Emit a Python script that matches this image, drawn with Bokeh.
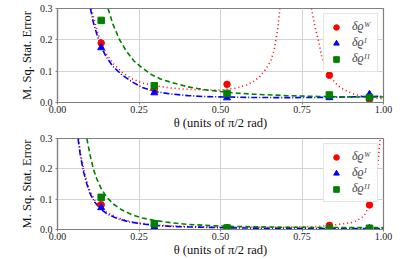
from bokeh.plotting import figure
from bokeh.layouts import column
from bokeh.models import FixedTicker, Range1d, Legend, LegendItem
from bokeh.embed import file_html
from bokeh.resources import INLINE

# ---------------- data ----------------
x_ticks = [0.0, 0.25, 0.5, 0.75, 1.0]
x_tick_labels = ["0.00", "0.25", "0.50", "0.75", "1.00"]
y_ticks = [0.0, 0.1, 0.2, 0.3]
y_tick_labels = ["0.0", "0.1", "0.2", "0.3"]
series_names = ["δϱᵂ", "δϱᴵ", "δϱᴵᴵ"]

theta_pts = [0.134, 0.297, 0.52, 0.834, 0.957]

# top panel measured points
top_W = [0.190, 0.043, 0.058, 0.087, 0.010]
top_I = [0.175, 0.031, 0.015, 0.0155, 0.026]
top_II = [0.262, 0.0535, 0.029, 0.024, 0.016]

# top panel theory curves
top_W_left_x = [0.104, 0.12, 0.134, 0.15, 0.17, 0.20, 0.23, 0.26, 0.30, 0.35, 0.40, 0.45,
                0.50, 0.55, 0.58, 0.60, 0.62, 0.64, 0.655, 0.665, 0.675, 0.682]
top_W_left_y = [0.30, 0.235, 0.19, 0.155, 0.125, 0.095, 0.075, 0.062, 0.053, 0.046, 0.042, 0.040,
                0.040, 0.046, 0.056, 0.066, 0.082, 0.108, 0.135, 0.17, 0.23, 0.30]
top_W_right_x = [0.779, 0.79, 0.80, 0.81, 0.822, 0.834, 0.85, 0.863, 0.88, 0.904, 0.925, 0.945, 0.97, 1.00]
top_W_right_y = [0.30, 0.24, 0.20, 0.15, 0.113, 0.087, 0.065, 0.052, 0.040, 0.029, 0.022, 0.018, 0.014, 0.012]

top_I_x = [0.101, 0.11, 0.12, 0.135, 0.15, 0.17, 0.198, 0.23, 0.26, 0.297, 0.35, 0.40, 0.45,
           0.52, 0.60, 0.70, 0.80, 0.90, 1.00]
top_I_y = [0.30, 0.255, 0.22, 0.175, 0.145, 0.115, 0.088, 0.065, 0.048, 0.035, 0.027, 0.022, 0.019,
           0.0175, 0.016, 0.0155, 0.016, 0.018, 0.020]

top_II_x = [0.155, 0.17, 0.19, 0.21, 0.234, 0.26, 0.29, 0.316, 0.35, 0.40, 0.45, 0.50, 0.55,
            0.60, 0.70, 0.80, 0.90, 1.00]
top_II_y = [0.30, 0.25, 0.201, 0.166, 0.133, 0.110, 0.088, 0.075, 0.064, 0.050, 0.041, 0.035, 0.030,
            0.0266, 0.022, 0.0192, 0.0178, 0.0174]

# bottom panel measured points
bot_W = [0.082, 0.013, 0.005, 0.0137, 0.081]
bot_I = [0.072, 0.0074, 0.004, 0.003, 0.004]
bot_II = [0.106, 0.019, 0.005, 0.003, 0.004]

# bottom panel theory curves
bot_W_x = [0.065, 0.07, 0.08, 0.09, 0.10, 0.115, 0.132, 0.15, 0.183, 0.22, 0.255, 0.30, 0.35, 0.40,
           0.50, 0.60, 0.70, 0.79, 0.834, 0.87, 0.90, 0.92, 0.94, 0.957, 0.97, 0.98, 0.99]
bot_W_y = [0.30, 0.255, 0.20, 0.16, 0.125, 0.095, 0.075, 0.058, 0.039, 0.027, 0.021, 0.015, 0.012, 0.010,
           0.008, 0.007, 0.0075, 0.0095, 0.013, 0.018, 0.022, 0.030, 0.045, 0.080, 0.13, 0.19, 0.30]

bot_I_x = [0.063, 0.07, 0.08, 0.09, 0.10, 0.115, 0.132, 0.15, 0.183, 0.22, 0.255, 0.30, 0.35, 0.40,
           0.50, 0.60, 0.75, 1.00]
bot_I_y = [0.30, 0.245, 0.19, 0.15, 0.118, 0.089, 0.068, 0.053, 0.036, 0.025, 0.019, 0.0135, 0.010, 0.0085,
           0.006, 0.0045, 0.0035, 0.003]

bot_II_x = [0.09, 0.10, 0.11, 0.12, 0.134, 0.15, 0.17, 0.198, 0.23, 0.26, 0.297, 0.35, 0.40, 0.45,
            0.52, 0.60, 0.70, 0.80, 1.00]
bot_II_y = [0.30, 0.245, 0.20, 0.168, 0.135, 0.108, 0.085, 0.064, 0.048, 0.038, 0.030, 0.022, 0.017, 0.014,
            0.0105, 0.009, 0.0075, 0.0065, 0.006]

RED = "#ff0000"
BLUE = "#0000ff"
GREEN = "#008000"
FONT = "Liberation Serif"


def make_panel(height, border_top, W, I, II, W_curves, I_curve, II_curve):
    p = figure(width=405, height=height, output_backend="svg", toolbar_location=None,
               x_range=Range1d(0, 1), y_range=Range1d(0, 0.3),
               min_border_left=57, min_border_right=22, min_border_top=border_top, min_border_bottom=0)
    p.outline_line_color = "#808080"
    p.outline_line_width = 1.2
    for ax in (p.xaxis[0], p.yaxis[0]):
        ax.axis_line_color = "#808080"
        ax.axis_line_width = 1.2
        ax.major_tick_line_color = "#808080"
        ax.major_tick_out = 2
        ax.major_tick_in = 0
        ax.minor_tick_line_color = None
        ax.major_label_text_font = FONT
        ax.major_label_text_font_size = "10px"
        ax.major_label_text_color = "#222222"
        ax.axis_label_text_font = FONT
        ax.axis_label_text_font_size = "12.5px"
        ax.axis_label_text_font_style = "normal"
        ax.axis_label_text_color = "#111111"
    p.xaxis.ticker = FixedTicker(ticks=x_ticks)
    p.xaxis.major_label_overrides = {t: s for t, s in zip(x_ticks, x_tick_labels)}
    p.yaxis.ticker = FixedTicker(ticks=y_ticks)
    p.yaxis.major_label_overrides = {t: s for t, s in zip(y_ticks, y_tick_labels)}
    p.xaxis.axis_label = "θ (units of π/2 rad)"
    p.yaxis.axis_label = "M. Sq. Stat. Error"
    p.xaxis.major_label_standoff = 1
    p.xaxis.axis_label_standoff = 0
    p.yaxis.major_label_standoff = 3
    p.yaxis.axis_label_standoff = 3
    p.xgrid.grid_line_color = "#d3d3d3"
    p.ygrid.grid_line_color = "#d3d3d3"
    p.grid.grid_line_width = 1

    for cx, cy in W_curves:
        p.line(cx, cy, line_color=RED, line_width=1.6, line_dash="1 3")
    p.line(I_curve[0], I_curve[1], line_color=BLUE, line_width=1.6, line_dash="6 2 1 2")
    p.line(II_curve[0], II_curve[1], line_color=GREEN, line_width=1.6, line_dash="5 3")

    rW = p.scatter(theta_pts, W, marker="circle", size=6.5, fill_color=RED, line_color=RED)
    rI = p.scatter(theta_pts, I, marker="triangle", size=7, fill_color=BLUE, line_color=BLUE)
    rII = p.scatter(theta_pts, II, marker="square", size=6.5, fill_color=GREEN, line_color=GREEN)

    legend = Legend(items=[LegendItem(label=series_names[0], renderers=[rW]),
                           LegendItem(label=series_names[1], renderers=[rI]),
                           LegendItem(label=series_names[2], renderers=[rII])],
                    location="top_right")
    legend.margin = 5
    legend.padding = 5
    legend.spacing = 1
    legend.glyph_width = 14
    legend.glyph_height = 14
    legend.label_standoff = 9
    legend.label_text_font = FONT
    legend.label_text_font_style = "italic"
    legend.label_text_font_size = "12px"
    legend.label_height = 14
    legend.border_line_color = "#cccccc"
    legend.border_line_width = 1
    legend.background_fill_color = "white"
    legend.background_fill_alpha = 0.9
    p.add_layout(legend)
    return p


p1 = make_panel(132, 8, top_W, top_I, top_II,
                [(top_W_left_x, top_W_left_y), (top_W_right_x, top_W_right_y)],
                (top_I_x, top_I_y), (top_II_x, top_II_y))
p2 = make_panel(127, 6, bot_W, bot_I, bot_II,
                [(bot_W_x, bot_W_y)],
                (bot_I_x, bot_I_y), (bot_II_x, bot_II_y))

layout = column(p1, p2, spacing=0)
open("out.html", "w").write(file_html(layout, INLINE))
